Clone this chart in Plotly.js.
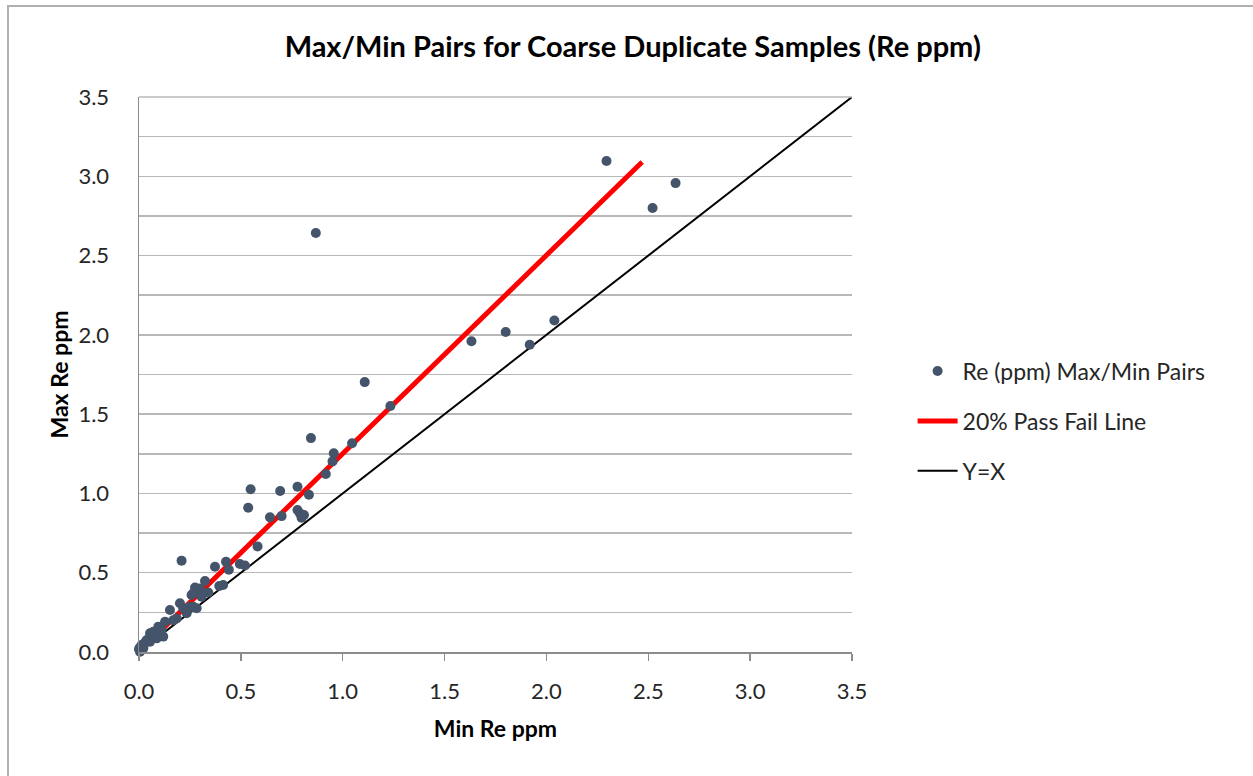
<!DOCTYPE html>
<html>
<head>
<meta charset="utf-8">
<script src="https://cdn.plot.ly/plotly-3.0.1.min.js"></script>
<style>
html,body{margin:0;padding:0;background:#fff;}
#frame{position:absolute;left:7px;top:5px;width:1246px;height:771px;border-top:2px solid #b0b0b0;border-left:2px solid #b0b0b0;box-sizing:border-box;pointer-events:none;z-index:5;}
#chart{position:absolute;left:0;top:0;width:1253px;height:776px;}
</style>
</head>
<body>
<div id="chart"></div>
<div id="frame"></div>
<script>
// Re (ppm) Max/Min pairs
const minRe = [2.295, 2.634, 2.521, 0.868, 1.632, 1.800, 1.918, 2.039, 1.108, 1.234,
  0.844, 1.046, 0.956, 0.950, 0.917, 0.548, 0.693, 0.778, 0.834, 0.536,
  0.778, 0.790, 0.810, 0.798, 0.643, 0.700, 0.582, 0.209, 0.373, 0.427,
  0.441, 0.495, 0.520, 0.324, 0.394, 0.413, 0.275, 0.299, 0.266, 0.340,
  0.307, 0.258, 0.152, 0.201, 0.217, 0.250, 0.283, 0.185, 0.234, 0.168,
  0.128, 0.095, 0.054, 0.070, 0.111, 0.119, 0.087, 0.038, 0.013, 0.000,
  0.021, 0.054, 0.005, 0.029, 0.070, 0.111, 0.005, 0.021, 0.266];
const maxRe = [3.096, 2.957, 2.800, 2.642, 1.960, 2.018, 1.938, 2.091, 1.702, 1.551,
  1.349, 1.316, 1.253, 1.202, 1.122, 1.026, 1.015, 1.042, 0.992, 0.910,
  0.895, 0.874, 0.864, 0.847, 0.849, 0.857, 0.666, 0.576, 0.538, 0.569,
  0.519, 0.555, 0.545, 0.448, 0.416, 0.422, 0.406, 0.400, 0.370, 0.375,
  0.349, 0.359, 0.265, 0.307, 0.276, 0.286, 0.276, 0.212, 0.244, 0.200,
  0.191, 0.160, 0.118, 0.128, 0.139, 0.097, 0.086, 0.076, 0.044, 0.018,
  0.033, 0.065, 0.002, 0.060, 0.107, 0.107, 0.030, 0.023, 0.286];
// 20% pass/fail line end points
const passX = [0, 2.47];
const passY = [0, 3.09];
// Y = X line end points
const idX = [0, 3.5];
const idY = [0, 3.5];
const xTickVals = [0, 0.5, 1.0, 1.5, 2.0, 2.5, 3.0, 3.5];
const xTickText = ['0.0', '0.5', '1.0', '1.5', '2.0', '2.5', '3.0', '3.5'];
const yTickVals = [0, 0.25, 0.5, 0.75, 1.0, 1.25, 1.5, 1.75, 2.0, 2.25, 2.5, 2.75, 3.0, 3.25, 3.5];
const yTickText = ['0.0', '', '0.5', '', '1.0', '', '1.5', '', '2.0', '', '2.5', '', '3.0', '', '3.5'];

const FONT = 'Lato, "Open Sans", sans-serif';

const scatterTrace = {
  x: minRe, y: maxRe, type: 'scatter', mode: 'markers',
  name: 'Re (ppm) Max/Min Pairs', legendgroup: 'a', legendrank: 1,
  marker: {color: '#44546A', size: 10, line: {width: 0}},
  cliponaxis: false
};
const passTrace = {
  x: passX, y: passY, type: 'scatter', mode: 'lines',
  name: '20% Pass Fail Line', legendgroup: 'b', legendrank: 2,
  line: {color: '#FF0000', width: 5}
};
const idTrace = {
  x: idX, y: idY, type: 'scatter', mode: 'lines',
  name: 'Y=X', legendgroup: 'c', legendrank: 3,
  line: {color: '#000000', width: 2}
};

const layout = {
  width: 1253, height: 776,
  margin: {l: 139, r: 401, t: 97, b: 124},
  paper_bgcolor: '#ffffff', plot_bgcolor: '#ffffff',
  font: {family: FONT, size: 22, color: '#262626'},
  title: {
    text: '<b>Max/Min Pairs for Coarse Duplicate Samples (Re ppm)</b>',
    x: 0.505, xanchor: 'center', y: 0.94, yanchor: 'middle',
    font: {family: FONT, size: 29, color: '#000000'}
  },
  xaxis: {
    range: [0, 3.5], tickvals: xTickVals, ticktext: xTickText,
    showgrid: false, zeroline: false,
    showline: true, linecolor: '#8c8c8c', linewidth: 1.5,
    ticks: 'outside', ticklen: 7, tickcolor: '#8c8c8c', tickwidth: 1.5,
    ticklabelstandoff: 12,
    tickfont: {family: FONT, size: 22, color: '#262626'},
    title: {text: '<b>Min Re ppm</b>', standoff: 18, font: {family: FONT, size: 23, color: '#000000'}}
  },
  yaxis: {
    range: [0, 3.5], tickvals: yTickVals, ticktext: yTickText,
    showgrid: true, gridcolor: '#b8b8b8', gridwidth: 1.5,
    zeroline: false,
    showline: true, linecolor: '#8c8c8c', linewidth: 1.5,
    ticks: '', ticklabelstandoff: 24,
    tickfont: {family: FONT, size: 22, color: '#262626'},
    title: {text: '<b>Max Re ppm</b>', standoff: 3, font: {family: FONT, size: 23, color: '#000000'}}
  },
  showlegend: true,
  legend: {
    x: 1.085, xanchor: 'left', y: 0.416, yanchor: 'middle',
    font: {family: FONT, size: 23, color: '#262626'},
    tracegroupgap: 17, itemwidth: 40,
    bgcolor: 'rgba(0,0,0,0)'
  },
  shapes: [
    {type: 'line', xref: 'paper', yref: 'paper', x0: 0, x1: 1.0, y0: 1, y1: 1,
     line: {color: '#b8b8b8', width: 1.5}}
  ]
};

Plotly.newPlot('chart', [passTrace, idTrace, scatterTrace], layout, {displayModeBar: false, staticPlot: true});
</script>
</body>
</html>
